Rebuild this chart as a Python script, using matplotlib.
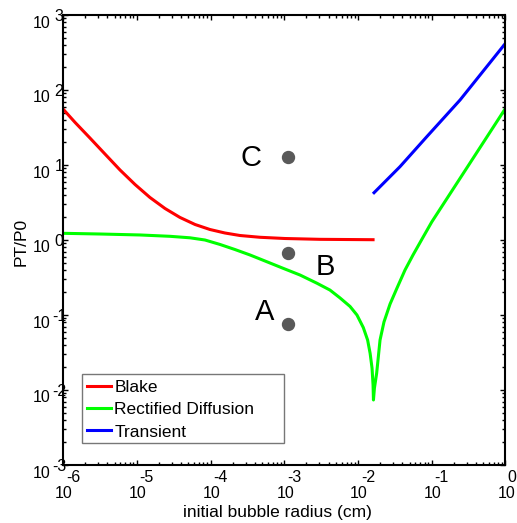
import matplotlib
matplotlib.use("Agg")
import matplotlib.pyplot as plt
from matplotlib.patches import Rectangle
from matplotlib.transforms import ScaledTranslation, blended_transform_factory

plt.rcParams['font.family'] = ['Liberation Sans', 'DejaVu Sans']

# Blake threshold
blake_r = [1e-6, 1.46e-6, 2.32e-6, 3.71e-6, 5.93e-6, 9.47e-6, 1.51e-5,
           2.42e-5, 3.85e-5, 6.17e-5, 9.84e-5, 1.57e-4, 2.51e-4, 4.69e-4,
           1.02e-3, 3.05e-3, 1.60e-2]
blake_p = [55.8, 36.9, 22.9, 14.0, 8.58, 5.50, 3.69,
           2.63, 2.00, 1.61, 1.38, 1.24, 1.148, 1.087,
           1.047, 1.021, 1.009]

# Rectified diffusion threshold
rd_r = [1e-6, 3.18e-6, 1.11e-5, 2.82e-5, 5.27e-5, 8.41e-5, 1.35e-4,
        2.15e-4, 3.44e-4, 5.48e-4, 9.62e-4, 1.64e-3, 2.78e-3, 4.17e-3,
        5.70e-3, 7.80e-3, 9.68e-3, 1.18e-2, 1.35e-2, 1.46e-2, 1.55e-2,
        1.60e-2, 1.62e-2, 1.67e-2, 1.79e-2, 1.99e-2, 2.25e-2, 2.72e-2,
        3.38e-2, 4.34e-2, 5.57e-2, 7.38e-2, 0.1, 1.0]
rd_p = [1.228, 1.202, 1.167, 1.120, 1.07, 1.0, 0.871,
        0.746, 0.631, 0.525, 0.42, 0.341, 0.265, 0.215,
        0.169, 0.130, 0.1, 0.068, 0.0464, 0.0308, 0.0196,
        0.0117, 0.00736, 0.0106, 0.0167, 0.0464, 0.0807, 0.140,
        0.229, 0.398, 0.631, 1.03, 1.74, 57]

# Transient cavitation threshold
tr_r = [1.65e-2, 3.71e-2, 8.55e-2, 0.242, 1.0]
tr_p = [4.27, 9.5, 23.8, 73.6, 420]

# Operating points
pt_names = ['A', 'B', 'C']
pt_r = [1.13e-3, 1.13e-3, 1.13e-3]
pt_p = [0.076, 0.665, 12.7]

x_exps = [-6, -5, -4, -3, -2, -1, 0]
y_exps = [-3, -2, -1, 0, 1, 2, 3]

W, H = 517, 523
fig = plt.figure(figsize=(W / 100, H / 100), dpi=100)
ax = fig.add_axes([63 / W, 1 - 465 / H, 442.5 / W, 450 / H])

ax.plot(blake_r, blake_p, color='#ff0000', lw=2.2, label='Blake')
ax.plot(rd_r, rd_p, color='#00ff00', lw=2.2, label='Rectified Diffusion')
ax.plot(tr_r, tr_p, color='#0000ff', lw=2.2, label='Transient')

ax.plot(pt_r, pt_p, 'o', color='#595959', ms=8.6, ls='none')
label_offsets = {'A': (-16.8, 8.9), 'B': (26.4, -9.6), 'C': (-26.4, -0.7)}
for name, r, p in zip(pt_names, pt_r, pt_p):
    ax.annotate(name, (r, p), xytext=label_offsets[name],
                textcoords='offset points', ha='center', va='center',
                fontsize=21)

ax.set_xscale('log')
ax.set_yscale('log')
ax.set_xlim(1e-6, 1)
ax.set_ylim(1e-3, 1e3)

for s in ax.spines.values():
    s.set_linewidth(1.5)
ax.tick_params(which='both', direction='in', top=True, right=True,
               labelbottom=False, labelleft=False, width=1)
ax.tick_params(which='major', length=3.8)
ax.tick_params(which='minor', length=2.3)

def px(dx, dy):
    return ScaledTranslation(dx / 100, dy / 100, fig.dpi_scale_trans)

# MATLAB-style exponent tick labels
tx = blended_transform_factory(ax.transData, ax.transAxes)
for e in x_exps:
    v = 10.0 ** e
    ax.text(v, 0, '10', transform=tx + px(1, -28), ha='center', va='center',
            fontsize=11.5, clip_on=False)
    ex = 6 if e == 0 else 10
    ax.text(v, 0, str(e), transform=tx + px(ex, -13), ha='center', va='center',
            fontsize=11.5, clip_on=False)

ty = blended_transform_factory(ax.transAxes, ax.transData)
for e in y_exps:
    v = 10.0 ** e
    ax.text(0, v, '10', transform=ty + px(-12, -8), ha='right', va='center',
            fontsize=11.5, clip_on=False)
    ax.text(0, v, str(e), transform=ty + px(-4, -1.5), ha='center', va='center',
            fontsize=11.5, clip_on=False)

fig.text(21 / W, 1 - 241.5 / H, 'PT/P0', rotation=90, ha='center',
         va='center', fontsize=12.5)
fig.text(277 / W, 1 - 512 / H, 'initial bubble radius (cm)', ha='center',
         va='center', fontsize=12.5)

# Legend box (wider than its contents, MATLAB style)
box = Rectangle((82 / W, 1 - 443 / H), 202 / W, 69 / H,
                transform=fig.transFigure, facecolor='white',
                edgecolor='#777777', linewidth=1, zorder=4, clip_on=False)
ax.add_patch(box)
leg = ax.legend(loc='upper left', bbox_to_anchor=(84 / W, 1 - 376 / H),
                bbox_transform=fig.transFigure, borderaxespad=0,
                fontsize=12.5, handlelength=1.35, handletextpad=0.2,
                labelspacing=0.42, borderpad=0.2, frameon=False)
leg.set_zorder(5)

fig.savefig('out.png', dpi=100)
